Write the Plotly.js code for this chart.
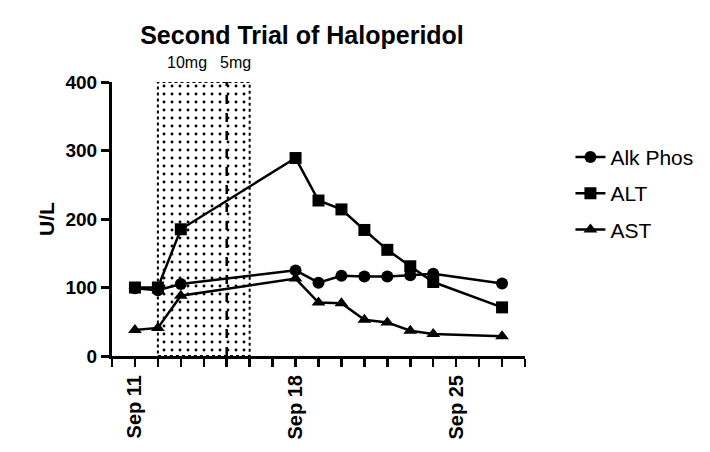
<!DOCTYPE html>
<html>
<head>
<meta charset="utf-8">
<script src="https://cdn.plot.ly/plotly-3.0.1.min.js"></script>
<style>
  html, body { margin: 0; padding: 0; background: #fff; }
  #myDiv { width: 710px; height: 452px; }
</style>
</head>
<body>
<div id="myDiv"></div>
<script>
// sampling dates
var dates = ['2020-09-11', '2020-09-12', '2020-09-13', '2020-09-18', '2020-09-19',
             '2020-09-20', '2020-09-21', '2020-09-22', '2020-09-23', '2020-09-24', '2020-09-27'];

// lab values, U/L
var alkPhos = [99, 96, 105, 125, 107, 117, 116, 116, 118, 120, 106];
var alt     = [100, 100, 185, 289, 227, 214, 184, 155, 131, 108, 71];
var ast     = [38, 41, 88, 113, 78, 77, 53, 49, 37, 32, 29];

// haloperidol period and dose change
var doseStart = '2020-09-12';
var doseEnd = '2020-09-16';
var doseSwitch = '2020-09-15';
var doseLabels = ['10mg', '5mg'];
var doseLabelDates = ['2020-09-13 06:30', '2020-09-15 09:00'];

// x axis: a tick every day, labels only weekly
var xLabelled = {11: 'Sep 11', 18: 'Sep 18', 25: 'Sep 25'};
var xTickVals = [], xTickText = [];
for (var d = 10; d <= 28; d++) {
    xTickVals.push('2020-09-' + (d < 10 ? '0' + d : d));
    xTickText.push(xLabelled[d] || '');
}
var yTicks = [0, 100, 200, 300, 400];

var FONT = 'Liberation Sans, Arial, sans-serif';

var midDose = new Date((Date.parse(doseStart) + Date.parse(doseEnd)) / 2).toISOString().slice(0, 10);

var shade = {
    x: [midDose], y: [400], type: 'bar',
    width: [Date.parse(doseEnd) - Date.parse(doseStart)],
    marker: {
        color: 'black',
        line: {width: 0},
        pattern: {shape: '.', fillmode: 'replace', size: 8, solidity: 0.1}
    },
    showlegend: false, hoverinfo: 'skip'
};

function series(name, yv, symbol) {
    return {
        x: dates, y: yv, name: name, type: 'scatter', mode: 'lines+markers',
        line: {color: 'black', width: 2.5},
        marker: {symbol: symbol, size: 12, color: 'black'},
        legendgroup: name
    };
}

var data = [
    shade,
    series('Alk Phos', alkPhos, 'circle'),
    series('ALT', alt, 'square'),
    series('AST', ast, 'triangle-up')
];

var layout = {
    width: 710,
    height: 452,
    margin: {l: 112, r: 185, t: 82, b: 96},
    paper_bgcolor: 'white',
    plot_bgcolor: 'white',
    font: {family: FONT, color: 'black'},
    showlegend: true,
    title: {
        text: 'Second Trial of Haloperidol',
        font: {family: FONT, size: 25, weight: 'bold', color: 'black'},
        xref: 'container', x: 302 / 710, xanchor: 'center',
        yref: 'container', y: 1 - 35 / 452, yanchor: 'middle'
    },
    xaxis: {
        type: 'date',
        range: ['2020-09-10', '2020-09-28'],
        tickmode: 'array',
        tickvals: xTickVals,
        ticktext: xTickText,
        tickangle: -90,
        ticks: 'outside', ticklen: 8, tickwidth: 2.5, tickcolor: 'black',
        showline: true, linewidth: 3, linecolor: 'black',
        showgrid: false, zeroline: false,
        tickfont: {family: FONT, size: 20, weight: 'bold', color: 'black'}
    },
    yaxis: {
        range: [0, 400],
        tickmode: 'array',
        tickvals: yTicks,
        ticks: 'outside', ticklen: 8, tickwidth: 3, tickcolor: 'black',
        showline: true, linewidth: 3, linecolor: 'black',
        showgrid: false, zeroline: false,
        tickfont: {family: FONT, size: 19, weight: 'bold', color: 'black'},
        title: {text: 'U/L', standoff: 6, font: {family: FONT, size: 21, weight: 'bold', color: 'black'}}
    },
    legend: {
        x: 1.11, xanchor: 'left', y: 0.8, yanchor: 'top',
        font: {family: FONT, size: 21, color: 'black'},
        tracegroupgap: 6,
        bgcolor: 'rgba(0,0,0,0)'
    },
    shapes: [
        {type: 'rect', xref: 'x', yref: 'y', x0: doseStart, x1: doseEnd, y0: 0, y1: 400,
         line: {color: 'black', width: 2, dash: 'dot'}, fillcolor: 'rgba(0,0,0,0)', layer: 'below'},
        {type: 'line', xref: 'x', yref: 'y', x0: doseSwitch, x1: doseSwitch, y0: 0, y1: 400,
         line: {color: 'black', width: 2.5, dash: 'dash'}, layer: 'below'}
    ],
    annotations: doseLabels.map(function (t, i) {
        return {
            text: t, xref: 'x', yref: 'paper', x: doseLabelDates[i], y: 1.07,
            xanchor: 'center', yanchor: 'middle', showarrow: false,
            font: {family: FONT, size: 16, color: 'black'}
        };
    })
};

Plotly.newPlot('myDiv', data, layout, {displayModeBar: false, staticPlot: true});
</script>
</body>
</html>
